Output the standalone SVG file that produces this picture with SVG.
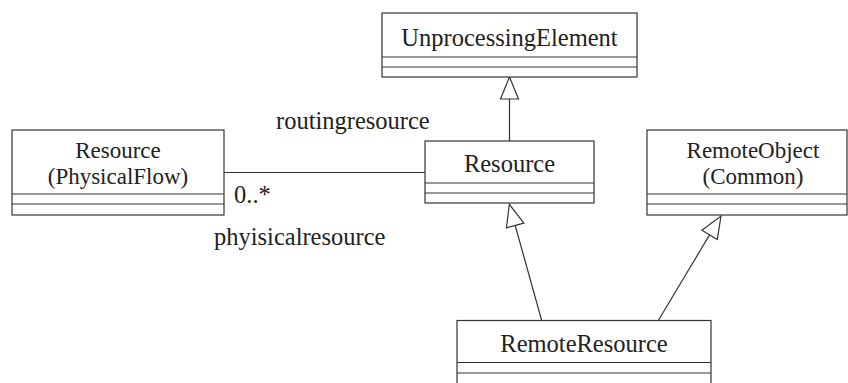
<svg xmlns="http://www.w3.org/2000/svg" width="848" height="383" viewBox="0 0 848 383">
<style>
.box{fill:#fff;stroke:#333;stroke-width:1.2}
.div{stroke:#333;stroke-width:1.2}
.t{font-size:24.5px;fill:#222}
.t2{font-size:23px;fill:#222}
.c{text-anchor:middle}
.ln{stroke:#333;stroke-width:1.2;fill:none}
.tri{fill:#fff;stroke:#333;stroke-width:1.2}
</style>
<rect width="848" height="383" fill="#fff"/>
<g font-family="'Liberation Serif', 'Times New Roman', 'DejaVu Serif', serif">
<g id="connectors">
<line class="ln" x1="224" y1="172.5" x2="425" y2="172.5"/>
<line class="ln" x1="509.5" y1="99" x2="509.5" y2="141"/>
<polygon class="tri" points="509.5,77 500.5,99 518.5,99"/>
<line class="ln" x1="541.7" y1="320.5" x2="515.2" y2="225.5"/>
<polygon class="tri" points="509.3,204.3 506.5,227.9 523.9,223.1"/>
<line class="ln" x1="658.3" y1="320.5" x2="709.6" y2="234.9"/>
<polygon class="tri" points="721,216 717.3,239.5 701.9,230.3"/>
<text class="t" x="276" y="129">routingresource</text>
<text class="t" x="234" y="203">0..*</text>
<text class="t" x="214" y="245">phyisicalresource</text>
</g>
<g id="UnprocessingElement">
<rect class="box" x="382" y="13" width="255" height="64"/>
<line class="div" x1="382" y1="57" x2="637" y2="57"/>
<line class="div" x1="382" y1="67" x2="637" y2="67"/>
<text class="t c" x="509.5" y="46">UnprocessingElement</text>
</g>
<g id="ResourcePhysicalFlow">
<rect class="box" x="12" y="130" width="212" height="85"/>
<line class="div" x1="12" y1="194" x2="224" y2="194"/>
<line class="div" x1="12" y1="204" x2="224" y2="204"/>
<text class="t2 c" x="118" y="157.5">Resource</text>
<text class="t2 c" x="118" y="184">(PhysicalFlow)</text>
</g>
<g id="Resource">
<rect class="box" x="425" y="141" width="169" height="62"/>
<line class="div" x1="425" y1="183" x2="594" y2="183"/>
<line class="div" x1="425" y1="193" x2="594" y2="193"/>
<text class="t c" x="509.5" y="172">Resource</text>
</g>
<g id="RemoteObject">
<rect class="box" x="647" y="130" width="200" height="85"/>
<line class="div" x1="647" y1="194" x2="847" y2="194"/>
<line class="div" x1="647" y1="204" x2="847" y2="204"/>
<text class="t2 c" x="753" y="157.5">RemoteObject</text>
<text class="t2 c" x="753" y="184">(Common)</text>
</g>
<g id="RemoteResource">
<rect class="box" x="457" y="320.5" width="254" height="70"/>
<line class="div" x1="457" y1="362.5" x2="711" y2="362.5"/>
<line class="div" x1="457" y1="373" x2="711" y2="373"/>
<text class="t c" x="584" y="352">RemoteResource</text>
</g>
</g>
</svg>
